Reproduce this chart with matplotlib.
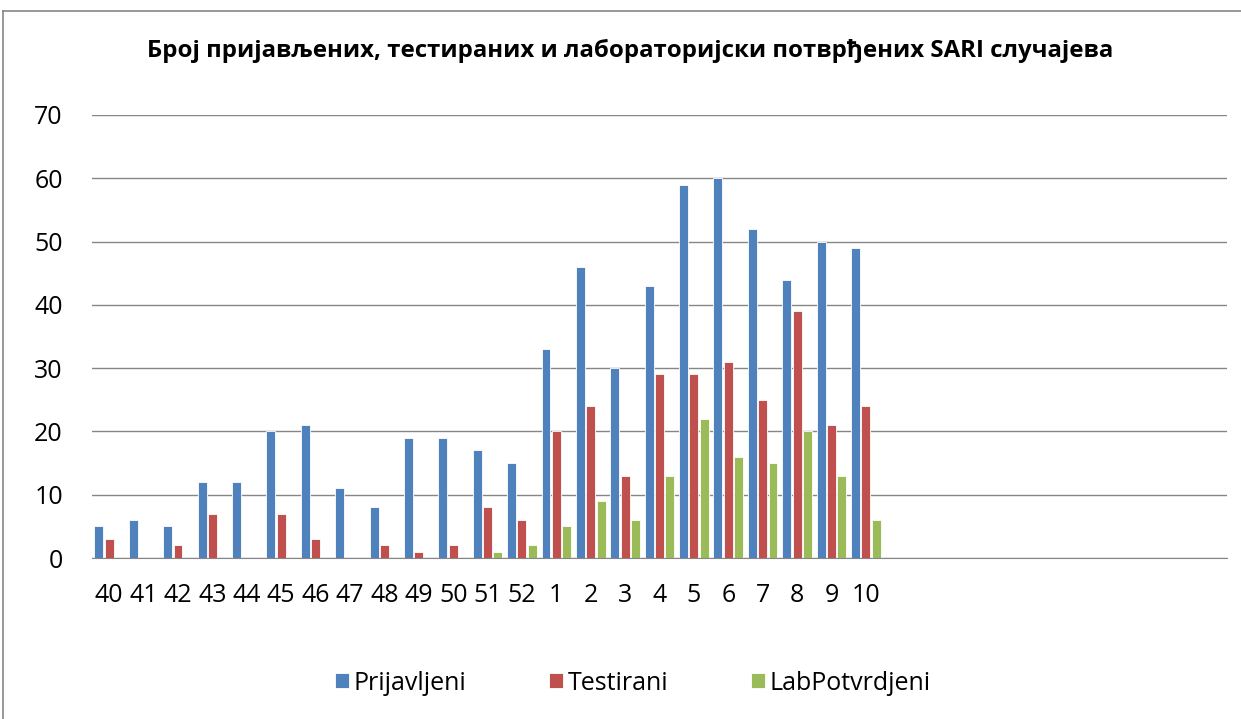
import numpy as np
import matplotlib.pyplot as plt
from matplotlib.lines import Line2D

plt.rcParams['font.family'] = ['Open Sans', 'DejaVu Sans']

weeks = ['40', '41', '42', '43', '44', '45', '46', '47', '48', '49', '50', '51', '52',
         '1', '2', '3', '4', '5', '6', '7', '8', '9', '10']
prijavljeni = [5, 6, 5, 12, 12, 20, 21, 11, 8, 19, 19, 17, 15, 33, 46, 30, 43, 59, 60, 52, 44, 50, 49]
testirani = [3, 0, 2, 7, 0, 7, 3, 0, 2, 1, 2, 8, 6, 20, 24, 13, 29, 29, 31, 25, 39, 21, 24]
lab_potvrdjeni = [0, 0, 0, 0, 0, 0, 0, 0, 0, 0, 0, 1, 2, 5, 9, 6, 13, 22, 16, 15, 20, 13, 6]
n_slots = 33  # axis keeps empty weeks on the right

title = 'Број пријављених, тестираних и лабораторијски потврђених SARI случајева'

fig = plt.figure(figsize=(12.41, 7.19), dpi=100)
ax = fig.add_axes([92 / 1241, 1 - 558 / 719, (1227 - 92) / 1241, (558 - 115) / 719])

x = np.arange(len(weeks))
w = 0.26
step = 0.3
ax.bar(x - step, prijavljeni, w, color='#4F81BD', edgecolor='white', linewidth=0.6, label='Prijavljeni')
ax.bar(x, testirani, w, color='#C0504D', edgecolor='white', linewidth=0.6, label='Testirani')
ax.bar(x + step, lab_potvrdjeni, w, color='#9BBB59', edgecolor='white', linewidth=0.6, label='LabPotvrdjeni')

ax.set_xlim(-0.5, n_slots - 0.5)
ax.set_ylim(0, 70)
ax.set_yticks(range(0, 71, 10))
ax.yaxis.grid(True, color='#868686', linewidth=1.0)
ax.set_axisbelow(True)
ax.set_xticks(x)
ax.set_xticklabels(weeks, fontsize=18)
ax.tick_params(axis='y', labelsize=18, length=0, pad=21)
ax.tick_params(axis='x', length=0, pad=18)
for s in ['top', 'right', 'left']:
    ax.spines[s].set_visible(False)
ax.spines['bottom'].set_color('#868686')

fig.text(0.508, 1 - 51 / 719, title, ha='center', va='center', fontsize=17.3, fontweight='bold')

fig.legend(loc='center', bbox_to_anchor=(0.51, 1 - 683 / 719), ncol=3, frameon=False,
           fontsize=18, handlelength=0.55, handleheight=0.55, handletextpad=0.2,
           columnspacing=3.3)

# chart border (top and left edges visible in reference)
fig.add_artist(Line2D([3 / 1241, 3 / 1241], [0, 1 - 11 / 719], color='#868686', lw=1.2))
fig.add_artist(Line2D([3 / 1241, 1], [1 - 11 / 719, 1 - 11 / 719], color='#868686', lw=1.2))

fig.savefig('out.png', dpi=100)
